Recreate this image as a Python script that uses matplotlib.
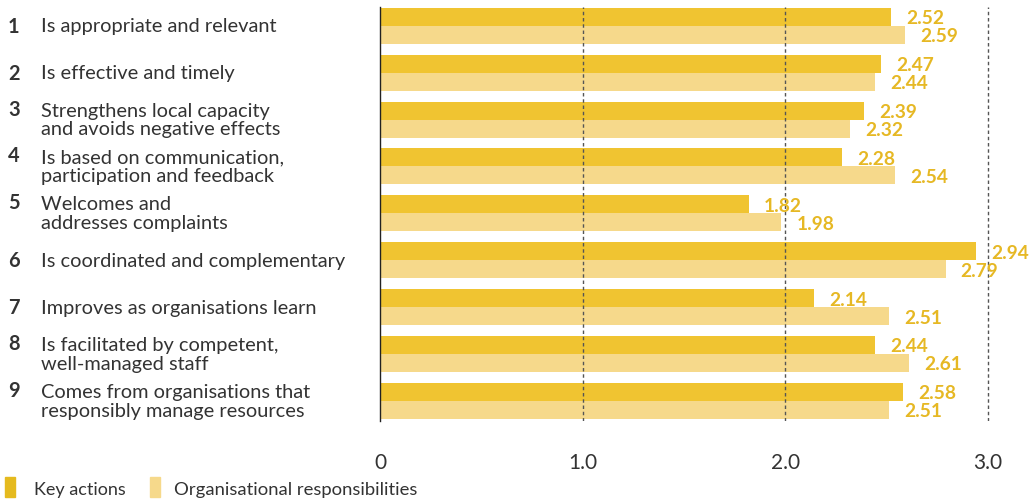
import matplotlib.pyplot as plt
from matplotlib.patches import Rectangle

# Commitment scores, key actions vs organisational responsibilities
numbers = ["1", "2", "3", "4", "5", "6", "7", "8", "9"]
labels = [
    "Is appropriate and relevant",
    "Is effective and timely",
    "Strengthens local capacity\nand avoids negative effects",
    "Is based on communication,\nparticipation and feedback",
    "Welcomes and\naddresses complaints",
    "Is coordinated and complementary",
    "Improves as organisations learn",
    "Is facilitated by competent,\nwell-managed staff",
    "Comes from organisations that\nresponsibly manage resources",
]
key_actions = [2.52, 2.47, 2.39, 2.28, 1.82, 2.94, 2.14, 2.44, 2.58]
org_resp = [2.59, 2.44, 2.32, 2.54, 1.98, 2.79, 2.51, 2.61, 2.51]
xticks = [0, 1, 2, 3]
xticklabels = ["0", "1.0", "2.0", "3.0"]

KEY_COL = "#F0C431"
ORG_COL = "#F6D98B"
VAL_COL = "#E6B824"
TXT_COL = "#333333"
FONT = "Lato"

W, H = 1029, 502
fig = plt.figure(figsize=(W / 100, H / 100), dpi=100)
ax = fig.add_axes([380 / W, 1 - 422 / H, 649 / W, 414 / H])

bh = 0.384
ys = list(range(len(labels)))
ax.barh([y - bh / 2 for y in ys], key_actions, height=bh, color=KEY_COL, zorder=1)
ax.barh([y + bh / 2 for y in ys], org_resp, height=bh, color=ORG_COL, zorder=1)

ax.set_xlim(0, 649 / 202.7)
ax.set_ylim(8.43, -0.40)

for x in [1, 2, 3]:
    ax.axvline(x, color="#555555", lw=1.0, ls=(0, (2.5, 2.0)), zorder=3)

# value labels to the right of each bar
for y, k, o in zip(ys, key_actions, org_resp):
    ax.text(k + 0.075, y - bh / 2 + 0.02, f"{k:.2f}", va="center", ha="left",
            color=VAL_COL, fontsize=13.8, fontweight="bold", family=FONT)
    ax.text(o + 0.075, y + bh / 2 + 0.02, f"{o:.2f}", va="center", ha="left",
            color=VAL_COL, fontsize=13.8, fontweight="bold", family=FONT)

# category labels with bold numbers
trans = ax.get_yaxis_transform()
for y, n, lab in zip(ys, numbers, labels):
    nlines = lab.count("\n") + 1
    num = n + "\n " * (nlines - 1)
    ax.text((8 - 380) / 649, y, num, transform=trans, va="center", ha="left",
            fontsize=14.4, fontweight="bold", color=TXT_COL, family=FONT,
            linespacing=1.12)
    ax.text((41 - 380) / 649, y, lab, transform=trans, va="center", ha="left",
            fontsize=14.4, color=TXT_COL, family=FONT, linespacing=1.12)

for s in ["top", "right", "bottom"]:
    ax.spines[s].set_visible(False)
ax.spines["left"].set_color("#222222")
ax.spines["left"].set_linewidth(1.0)
ax.set_yticks([])
ax.set_xticks(xticks)
ax.set_xticklabels(xticklabels, family=FONT, fontsize=15, color=TXT_COL)
ax.tick_params(axis="x", length=0, pad=22)

# legend
fig.add_artist(Rectangle((5 / W, 1 - 498 / H), 10 / W, 20 / H,
                         transform=fig.transFigure, color="#E5BA1E"))
fig.text(34 / W, 1 - 490 / H, "Key actions", va="center", ha="left",
         fontsize=13, color=TXT_COL, family=FONT)
fig.add_artist(Rectangle((150 / W, 1 - 498 / H), 10 / W, 20 / H,
                         transform=fig.transFigure, color=ORG_COL))
fig.text(174 / W, 1 - 490 / H, "Organisational responsibilities", va="center",
         ha="left", fontsize=13.3, color=TXT_COL, family=FONT)

fig.savefig("out.png", dpi=100)
